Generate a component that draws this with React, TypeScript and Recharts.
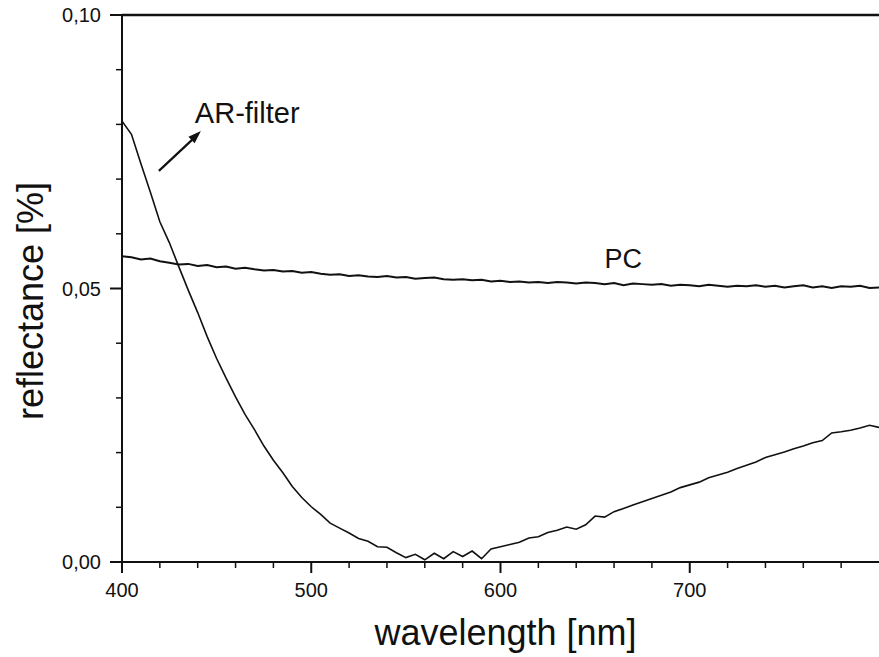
import { Line, LineChart, ReferenceDot, ReferenceLine, XAxis, YAxis } from "recharts";

const FONT = "'Liberation Sans', Arial, Helvetica, sans-serif";
const INK = "#111111";

// wavelength grid, 5 nm steps
const wavelengths = Array.from({ length: 81 }, (_, i) => 400 + i * 5);

// AR-filter reflectance
const arFilter = [
  0.0806, 0.0782, 0.0728, 0.0676, 0.0622, 0.0584, 0.054, 0.0497, 0.0456, 0.0412,
  0.0372, 0.0336, 0.0302, 0.027, 0.0242, 0.0212, 0.0186, 0.0163, 0.0138, 0.0118,
  0.0101, 0.0087, 0.0071, 0.0062, 0.0053, 0.0043, 0.0038, 0.0028, 0.0027, 0.0017,
  0.0008, 0.0014, 0.0004, 0.0016, 0.0006, 0.0019, 0.001, 0.002, 0.0006, 0.0024,
  0.0028, 0.0032, 0.0036, 0.0044, 0.0046, 0.0054, 0.0058, 0.0064, 0.006, 0.0068,
  0.0084, 0.0082, 0.0092, 0.0098, 0.0104, 0.011, 0.0116, 0.0122, 0.0128, 0.0136,
  0.0141, 0.0146, 0.0154, 0.0159, 0.0164, 0.0171, 0.0177, 0.0183, 0.0191, 0.0196,
  0.0201, 0.0207, 0.0212, 0.0218, 0.0222, 0.0236, 0.0238, 0.0241, 0.0245, 0.025,
  0.0246,
];

// PC reflectance
const pc = [
  0.0559, 0.0557, 0.0553, 0.0555, 0.055, 0.0547, 0.0544, 0.0545, 0.0541, 0.0543,
  0.0539, 0.054, 0.0536, 0.0538, 0.0535, 0.0533, 0.0534, 0.0531, 0.0532, 0.0529,
  0.053, 0.0527, 0.0525, 0.0526, 0.0523, 0.0524, 0.0522, 0.0521, 0.0523, 0.052,
  0.0521, 0.0518, 0.0519, 0.052, 0.0517, 0.0516, 0.0517, 0.0515, 0.0516, 0.0513,
  0.0514, 0.0512, 0.0513, 0.0511, 0.0512, 0.051, 0.0512, 0.0511, 0.0509, 0.0511,
  0.051, 0.0508, 0.051, 0.0506, 0.0509, 0.0508, 0.0507, 0.0508, 0.0505, 0.0507,
  0.0506, 0.0504, 0.0507, 0.0505, 0.0503, 0.0505, 0.0504, 0.0506, 0.0503, 0.0505,
  0.0502, 0.0504, 0.0506, 0.0502, 0.0504, 0.0501, 0.0504, 0.0503, 0.0505, 0.0501,
  0.0502,
];

// ticks: labelled ones plus the small unlabelled ones in between
const xMajorTicks = [400, 500, 600, 700];
const xAllTicks = [400, 420, 440, 460, 480, 500, 520, 540, 560, 580, 600, 620, 640, 660, 680, 700, 720, 740, 760, 780];
const yMajorTicks = [0, 0.05, 0.1];
const yAllTicks = [0, 0.01, 0.02, 0.03, 0.04, 0.05, 0.06, 0.07, 0.08, 0.09, 0.1];

const data = wavelengths.map((wl, i) => ({ wl, ar: arFilter[i], pc: pc[i] }));

const isMajor = (list: number[], v: number) => list.some((t) => Math.abs(t - v) < 1e-9);

function XTick({ x, y, payload }: any) {
  const major = isMajor(xMajorTicks, payload.value);
  return (
    <g>
      <line x1={x} x2={x} y1={y} y2={y + (major ? 11 : 6)} stroke={INK} strokeWidth={major ? 2 : 1.5} />
      {major && (
        <text x={x} y={y + 35} textAnchor="middle" fontSize={20} fontFamily={FONT} fill={INK}>
          {payload.value}
        </text>
      )}
    </g>
  );
}

function YTick({ x, y, payload }: any) {
  const major = isMajor(yMajorTicks, payload.value);
  return (
    <g>
      <line x1={x - (major ? 12 : 6)} x2={x} y1={y} y2={y} stroke={INK} strokeWidth={major ? 2 : 1.5} />
      {major && (
        <text x={x - 21} y={y + 7} textAnchor="end" fontSize={20} fontFamily={FONT} fill={INK}>
          {payload.value.toFixed(2).replace(".", ",")}
        </text>
      )}
    </g>
  );
}

export default function App() {
  return (
    <div style={{ width: 879, height: 657, background: "#fff" }}>
      <style>{"body{margin:0;background:#fff}"}</style>
      <LineChart
        width={879}
        height={657}
        data={data}
        margin={{ top: 15, right: 0, left: 0, bottom: 0 }}
      >
        <XAxis
          dataKey="wl"
          type="number"
          domain={[400, 800]}
          ticks={xAllTicks}
          interval={0}
          height={95}
          tickSize={0}
          tickMargin={0}
          tickLine={false}
          tick={<XTick />}
          axisLine={{ stroke: INK, strokeWidth: 2 }}
          label={{
            content: ({ viewBox }: any) => (
              <text
                x={viewBox.x + viewBox.width / 2 + 5}
                y={645}
                textAnchor="middle"
                fontSize={36}
                fontFamily={FONT}
                fill={INK}
              >
                wavelength [nm]
              </text>
            ),
          }}
        />
        <YAxis
          type="number"
          domain={[0, 0.1]}
          ticks={yAllTicks}
          interval={0}
          width={122}
          tickSize={0}
          tickMargin={0}
          tickLine={false}
          tick={<YTick />}
          axisLine={{ stroke: INK, strokeWidth: 2 }}
          label={{
            content: () => (
              <text
                x={43}
                y={301}
                transform="rotate(-90 43 301)"
                textAnchor="middle"
                fontSize={36}
                fontFamily={FONT}
                fill={INK}
              >
                reflectance [%]
              </text>
            ),
          }}
        />
        <ReferenceLine y={0.1} stroke={INK} strokeWidth={2.5} />
        <Line
          dataKey="pc"
          stroke={INK}
          strokeWidth={2}
          dot={false}
          isAnimationActive={false}
        />
        <Line
          dataKey="ar"
          stroke={INK}
          strokeWidth={1.6}
          dot={false}
          isAnimationActive={false}
        />
        {/* AR-filter arrow */}
        <ReferenceLine
          segment={[
            { x: 419.5, y: 0.0715 },
            { x: 438, y: 0.0775 },
          ]}
          stroke={INK}
          strokeWidth={2.2}
        />
        <ReferenceDot
          x={441.7}
          y={0.0788}
          r={0}
          shape={(p: any) => (
            <polygon
              points={`${p.cx},${p.cy} ${p.cx - 6.3},${p.cy + 12.3} ${p.cx - 12.5},${p.cy + 5.7}`}
              fill={INK}
            />
          )}
        />
        <ReferenceDot
          x={438.5}
          y={0.0803}
          r={0}
          shape={(p: any) => (
            <text x={p.cx} y={p.cy} fontSize={29} fontFamily={FONT} fill={INK}>
              AR-filter
            </text>
          )}
        />
        <ReferenceDot
          x={654.9}
          y={0.0537}
          r={0}
          shape={(p: any) => (
            <text x={p.cx} y={p.cy} fontSize={27} fontFamily={FONT} fill={INK}>
              PC
            </text>
          )}
        />
      </LineChart>
    </div>
  );
}
